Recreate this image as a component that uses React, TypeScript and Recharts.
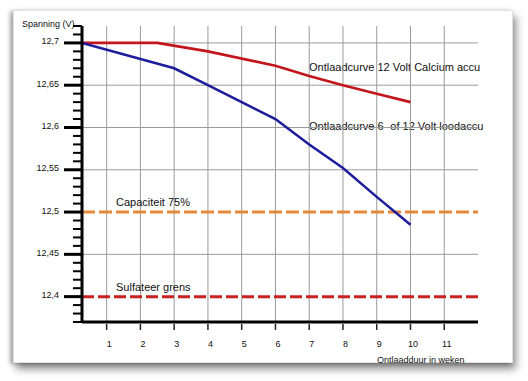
import React from 'react';
import { LineChart, Line, XAxis, YAxis, ReferenceLine } from 'recharts';

// Discharge curves (weeks -> volts)
const loodWeeks = [0.27, 3, 4, 5, 6, 7, 8, 9, 10];
const loodVolt = [12.7, 12.67, 12.65, 12.63, 12.61, 12.58, 12.552, 12.518, 12.485];
const calciumWeeks = [0.27, 2.5, 4, 6, 7, 8, 9, 10];
const calciumVolt = [12.7, 12.7, 12.69, 12.673, 12.661, 12.65, 12.64, 12.63];

// Threshold lines
const capaciteitLevel = 12.5;
const sulfateerLevel = 12.4;

// Ticks
const xTicks = [1, 2, 3, 4, 5, 6, 7, 8, 9, 10, 11];
const yMajorTicks = [12.4, 12.45, 12.5, 12.55, 12.6, 12.65, 12.7];
const yMinorTicks = [
  12.37, 12.38, 12.39, 12.41, 12.42, 12.43, 12.44, 12.46, 12.47, 12.48, 12.49,
  12.51, 12.52, 12.53, 12.54, 12.56, 12.57, 12.58, 12.59, 12.61, 12.62, 12.63,
  12.64, 12.66, 12.67, 12.68, 12.69, 12.71, 12.72,
];
const gridLevels = [12.45, 12.55, 12.6, 12.65, 12.7];

// Text
const yTitle = 'Spanning (V)';
const xTitle = 'Ontlaadduur in weken';
const calciumLabel = 'Ontlaadcurve 12 Volt Calcium accu';
const loodLabel = 'Ontlaadcurve 6- of 12 Volt loodaccu';
const capaciteitLabel = 'Capaciteit 75%';
const sulfateerLabel = 'Sulfateer grens';

const loodData = loodWeeks.map((w, i) => ({ week: w, volt: loodVolt[i] }));
const calciumData = calciumWeeks.map((w, i) => ({ week: w, volt: calciumVolt[i] }));
const yTicks = [...yMajorTicks, ...yMinorTicks].sort((a, b) => a - b);

const FONT = '"Liberation Sans", Arial, Helvetica, sans-serif';

const isMajor = (v: number) => yMajorTicks.some((m) => Math.abs(m - v) < 1e-6);

const YTick = (props: any) => {
  const { x, y, payload } = props;
  const v = payload.value as number;
  if (isMajor(v)) {
    return (
      <g>
        <line x1={x - 18} x2={x} y1={y} y2={y} stroke="#000" strokeWidth={3} />
        <text x={x - 23} y={y + 1.5} textAnchor="end" fontSize={9} fill="#111" fontFamily={FONT}>
          {String(v).replace('.', ',')}
        </text>
      </g>
    );
  }
  return <line x1={x - 9} x2={x} y1={y} y2={y} stroke="#000" strokeWidth={2} />;
};

const XTick = (props: any) => {
  const { x, y, payload } = props;
  return (
    <g>
      <line x1={x} x2={x} y1={y + 2} y2={y + 8} stroke="#222" strokeWidth={1.5} />
      <text x={x + 2.5} y={y + 24.5} textAnchor="middle" fontSize={9} fill="#111" fontFamily={FONT}>
        {payload.value}
      </text>
    </g>
  );
};

const lineLabel = (text: string, dx: number, dy: number) => (props: any) => {
  const vb = props.viewBox || {};
  return (
    <text x={vb.x + dx} y={vb.y + dy} fontSize={11} fill="#111" fontFamily={FONT}>
      {text}
    </text>
  );
};

export default function App() {
  return (
    <div style={{ position: 'fixed', left: 0, top: 0, width: 528, height: 381, background: '#fff', overflow: 'hidden' }}>
      <div
        style={{
          position: 'absolute',
          left: 13,
          top: 10,
          width: 500,
          height: 353,
          background: '#fff',
          border: '1px solid #e2e2e2',
          boxSizing: 'border-box',
          boxShadow: '3px 6px 8px rgba(0,0,0,0.45), -3px 1px 4px rgba(0,0,0,0.3)',
        }}
      />
      <div style={{ position: 'absolute', left: 0, top: 0 }}>
        <LineChart width={528} height={381} margin={{ top: 26, right: 50, bottom: 29, left: 22 }}>
          {xTicks.map((t) => (
            <ReferenceLine key={'vx' + t} x={t} stroke="#9a9a9a" strokeWidth={1} />
          ))}
          {gridLevels.map((lv) => (
            <ReferenceLine key={'hy' + lv} y={lv} stroke="#9a9a9a" strokeWidth={1} />
          ))}
          <XAxis
            type="number"
            dataKey="week"
            domain={[0.27, 12]}
            ticks={xTicks}
            interval={0}
            height={30}
            tickSize={0}
            tickMargin={0}
            tick={<XTick />}
            axisLine={{ stroke: '#000', strokeWidth: 3 }}
            allowDataOverflow
          />
          <YAxis
            type="number"
            domain={[12.37, 12.72]}
            ticks={yTicks}
            interval={0}
            width={60}
            tickSize={0}
            tickMargin={0}
            tick={<YTick />}
            axisLine={{ stroke: '#000', strokeWidth: 3 }}
            allowDataOverflow
          />
          <ReferenceLine
            y={capaciteitLevel}
            stroke="#e58a3c"
            strokeWidth={3}
            strokeDasharray="13 4"
            label={lineLabel(capaciteitLabel, 34, -6.5)}
          />
          <ReferenceLine
            y={sulfateerLevel}
            stroke="#cc1f22"
            strokeWidth={3}
            strokeDasharray="12 4"
            label={lineLabel(sulfateerLabel, 34, -6)}
          />
          <Line
            data={calciumData}
            dataKey="volt"
            type="linear"
            stroke="#c4141c"
            strokeWidth={2.6}
            dot={false}
            isAnimationActive={false}
          />
          <Line
            data={loodData}
            dataKey="volt"
            type="linear"
            stroke="#1c1c9c"
            strokeWidth={2.5}
            dot={false}
            isAnimationActive={false}
          />
          <text x={22} y={27} fontSize={9} fill="#111" fontFamily={FONT}>{yTitle}</text>
          <text x={377} y={363} fontSize={9} fill="#111" fontFamily={FONT}>{xTitle}</text>
          <text x={309} y={70.5} fontSize={11} fill="#111" fontFamily={FONT}>{calciumLabel}</text>
          <text x={309} y={129.5} fontSize={11} fill="#111" fontFamily={FONT}>{loodLabel}</text>
        </LineChart>
      </div>
    </div>
  );
}
